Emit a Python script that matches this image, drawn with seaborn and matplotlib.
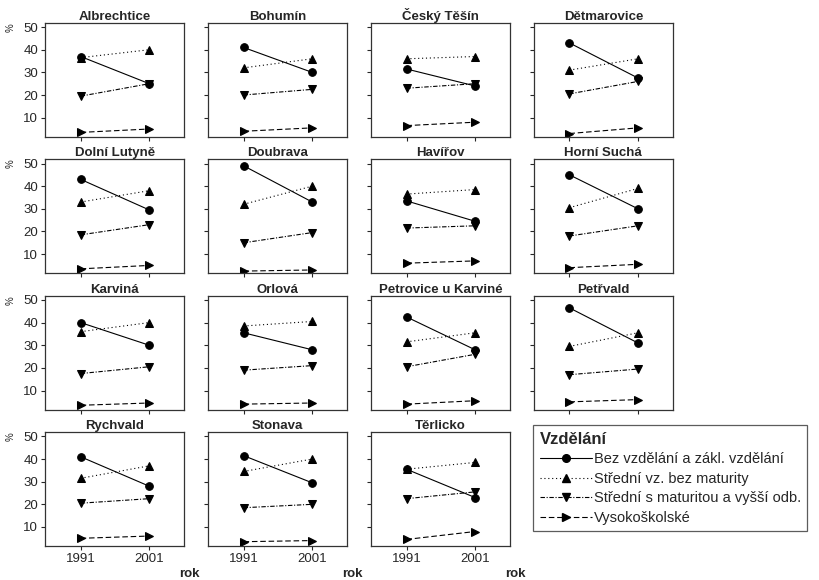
import pandas as pd
import seaborn as sns
import matplotlib.pyplot as plt

obce = ["Albrechtice", "Bohumín", "Český Těšín", "Dětmarovice",
        "Dolní Lutyně", "Doubrava", "Havířov", "Horní Suchá",
        "Karviná", "Orlová", "Petrovice u Karviné", "Petřvald",
        "Rychvald", "Stonava", "Těrlicko"]
roky = [1991, 2001]
vzdelani = ["Bez vzdělání a zákl. vzdělání", "Střední vz. bez maturity",
            "Střední s maturitou a vyšší odb.", "Vysokoškolské"]

# podíl obyvatel (%) podle vzdělání, 1991 a 2001
bez_1991 = [37, 41, 31.5, 43, 43, 49, 33.5, 45, 40, 35.5, 42.5, 46.5, 41, 41.5, 35.5]
bez_2001 = [25, 30, 24, 27.5, 29.5, 33, 24.5, 30, 30, 28, 28, 31, 28, 29.5, 23]
stred_1991 = [36.5, 32, 36, 31, 33, 32, 36.5, 30.5, 36, 38.5, 31.5, 29.5, 31.5, 34.5, 35.5]
stred_2001 = [40, 36, 37, 36, 38, 40, 38.5, 39, 40, 40.5, 35.5, 35.5, 37, 40, 38.5]
mat_1991 = [19.5, 20, 23, 20.5, 18.5, 15, 21.5, 18, 17.5, 19, 20.5, 17, 20.5, 18.5, 22.5]
mat_2001 = [25, 22.5, 25, 26, 23, 19.5, 22.5, 22.5, 20.5, 21, 26, 19.5, 22.5, 20, 25.5]
vs_1991 = [3.5, 4, 6.5, 3, 3.5, 2.5, 6, 4, 3.5, 4, 4, 5, 5, 3.5, 4.5]
vs_2001 = [5, 5.5, 8, 5.5, 5, 3, 7, 5.5, 4.5, 4.5, 5.5, 6, 6, 4, 8]

serie = {
    vzdelani[0]: (bez_1991, bez_2001),
    vzdelani[1]: (stred_1991, stred_2001),
    vzdelani[2]: (mat_1991, mat_2001),
    vzdelani[3]: (vs_1991, vs_2001),
}

rows = []
for v, (a, b) in serie.items():
    for i, obec in enumerate(obce):
        rows.append({"obec": obec, "Vzdělání": v, "rok": roky[0], "podil": a[i]})
        rows.append({"obec": obec, "Vzdělání": v, "rok": roky[1], "podil": b[i]})
df = pd.DataFrame(rows)

sns.set_style("ticks")
plt.rcParams['font.family'] = ['Liberation Sans', 'DejaVu Sans']

markers = dict(zip(vzdelani, ["o", "^", "v", ">"]))
dashes = dict(zip(vzdelani, ["", (1, 2.5), (4, 1.5, 1, 1.5), (5, 2.5)]))

g = sns.relplot(data=df, x="rok", y="podil", col="obec", col_wrap=4,
                col_order=obce, hue="Vzdělání", style="Vzdělání",
                hue_order=vzdelani, style_order=vzdelani,
                palette=["black"] * 4, markers=markers, dashes=dashes,
                kind="line", linewidth=0.8, markersize=5.5,
                markeredgecolor="black", height=1.14, aspect=1.22,
                facet_kws=dict(despine=False))

g.figure.set_size_inches(8.19, 5.8)
g.figure.subplots_adjust(left=45 / 819, right=673 / 819,
                         top=1 - 23 / 580, bottom=1 - 546 / 580,
                         wspace=0.17, hspace=0.2)

g.set_titles("{col_name}", fontweight="bold", size=9.5, pad=2)
g.set(xlim=(1985.8, 2006.1), ylim=(1.6, 51.8),
      xticks=roky, yticks=[10, 20, 30, 40, 50])
g.set_axis_labels("", "")

for i, ax in enumerate(g.axes.flat):
    for s in ax.spines.values():
        s.set_color("#333333")
        s.set_linewidth(0.9)
    ax.tick_params(length=3, width=0.8, labelsize=9.5, pad=2)
    ax.tick_params(labelleft=(i % 4 == 0), labelbottom=(i >= 12))
    if i >= 12:
        ax.set_xticklabels([str(r) for r in roky])
        ax.text(1.04, -0.25, "rok", transform=ax.transAxes, ha="center",
                va="center", fontsize=9.5, fontweight="bold")
    if i % 4 == 0:
        ax.set_yticklabels(["10", "20", "30", "40", "50"])
        ax.text(-0.25, 0.96, "%", transform=ax.transAxes, rotation=90,
                ha="center", va="center", fontsize=7)

sns.move_legend(g, "upper left", bbox_to_anchor=(533 / 819, 1 - 425 / 580),
                frameon=True, fancybox=False, edgecolor="#333333",
                title="Vzdělání", handlelength=3.6, handletextpad=0.1,
                labelspacing=0.38, fontsize=10.5, borderpad=0.45,
                borderaxespad=0,
                title_fontproperties={"weight": "bold", "size": 12})
g.legend.get_frame().set_linewidth(0.9)
g.legend._legend_box.align = "left"

g.figure.savefig("out.png", dpi=100)
